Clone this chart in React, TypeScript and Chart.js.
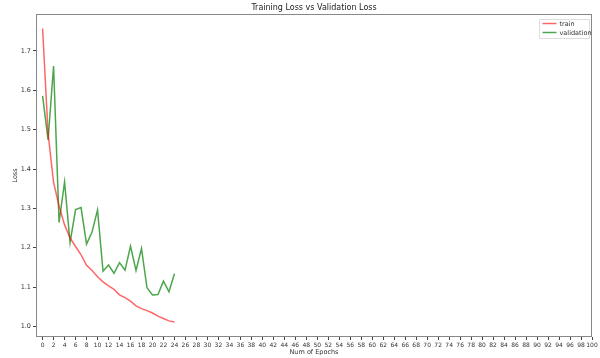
import React, { useEffect, useRef } from "react";
import { Chart, registerables } from "chart.js";

Chart.register(...registerables);

const epochs = [0, 1, 2, 3, 4, 5, 6, 7, 8, 9, 10, 11, 12, 13, 14, 15, 16, 17, 18, 19, 20, 21, 22, 23, 24];
const trainLoss = [1.757, 1.49, 1.366, 1.306, 1.258, 1.225, 1.203, 1.182, 1.155, 1.142, 1.126, 1.113, 1.103, 1.094, 1.080, 1.073, 1.064, 1.052, 1.045, 1.040, 1.034, 1.026, 1.020, 1.014, 1.011];
const valLoss = [1.586, 1.474, 1.662, 1.264, 1.367, 1.213, 1.297, 1.302, 1.209, 1.240, 1.296, 1.140, 1.156, 1.135, 1.162, 1.143, 1.204, 1.142, 1.198, 1.098, 1.080, 1.081, 1.115, 1.088, 1.134];
const xTicks = Array.from({ length: 51 }, (_, i) => i * 2);
const yTicks = [1.0, 1.1, 1.2, 1.3, 1.4, 1.5, 1.6, 1.7];
const seriesNames = ["train", "validation"];
const titleText = "Training Loss vs Validation Loss";
const xTitle = "Num of Epochs";
const yTitle = "Loss";

const FONT = "'DejaVu Sans', sans-serif";
const RED = "rgba(255,0,0,0.6)";
const GREEN = "rgba(0,128,0,0.7)";

const decorPlugin = {
  id: "decor",
  afterDraw(chart: any) {
    const { ctx, chartArea } = chart;
    const { left, right, top, bottom } = chartArea;
    ctx.save();
    // frame
    ctx.strokeStyle = "#888";
    ctx.lineWidth = 1;
    ctx.strokeRect(left + 0.5, top + 0.5, right - left - 1, bottom - top - 1);
    // title
    ctx.fillStyle = "#222";
    ctx.font = `8px ${FONT}`;
    ctx.textAlign = "center";
    ctx.textBaseline = "middle";
    ctx.fillText(titleText, (left + right) / 2, 7.5);
    // x title
    ctx.font = `6.5px ${FONT}`;
    ctx.fillStyle = "#333";
    ctx.fillText(xTitle, (left + right) / 2, 352.5);
    // y title
    ctx.save();
    ctx.translate(15.5, (top + bottom) / 2);
    ctx.rotate(-Math.PI / 2);
    ctx.fillText(yTitle, 0, 0);
    ctx.restore();
    // legend
    const bx = right - 52.5;
    const by = top + 5.5;
    const bw = 50;
    const bh = 19;
    ctx.fillStyle = "rgba(255,255,255,0.9)";
    ctx.strokeStyle = "#ddd";
    ctx.lineWidth = 1;
    ctx.beginPath();
    ctx.rect(bx, by, bw, bh);
    ctx.fill();
    ctx.stroke();
    const colors = chart.data.datasets.map((d: any) => d.borderColor);
    seriesNames.forEach((name, i) => {
      const ly = by + 4 + i * 9;
      ctx.strokeStyle = colors[i];
      ctx.lineWidth = 1.5;
      ctx.beginPath();
      ctx.moveTo(bx + 3, ly);
      ctx.lineTo(bx + 17, ly);
      ctx.stroke();
      ctx.fillStyle = "#333";
      ctx.font = `6.5px ${FONT}`;
      ctx.textAlign = "left";
      ctx.textBaseline = "middle";
      ctx.fillText(name, bx + 20, ly + 0.5);
    });
    ctx.restore();
  },
};

export default function App() {
  const ref = useRef<HTMLCanvasElement>(null);
  useEffect(() => {
    document.body.style.margin = "0";
    const canvas = ref.current!;
    const chart = new Chart(canvas, {
      type: "line",
      data: {
        datasets: [
          {
            label: seriesNames[0],
            data: epochs.map((e, i) => ({ x: e, y: trainLoss[i] })),
            borderColor: RED,
            borderWidth: 1.5,
            pointRadius: 0,
            fill: false,
            tension: 0,
          },
          {
            label: seriesNames[1],
            data: epochs.map((e, i) => ({ x: e, y: valLoss[i] })),
            borderColor: GREEN,
            borderWidth: 1.5,
            pointRadius: 0,
            fill: false,
            tension: 0,
          },
        ],
      },
      options: {
        responsive: false,
        animation: false,
        devicePixelRatio: 1,
        layout: { padding: { top: 14, right: 8, left: 0, bottom: 0 } },
        plugins: {
          legend: { display: false },
          title: { display: false },
          tooltip: { enabled: false },
        },
        scales: {
          x: {
            type: "linear",
            min: -1.2,
            max: 100,
            afterBuildTicks: (scale: any) => {
              scale.ticks = xTicks.map((v) => ({ value: v }));
            },
            afterFit: (scale: any) => {
              scale.height = 21;
            },
            grid: {
              display: true,
              drawOnChartArea: false,
              drawTicks: true,
              tickLength: 3,
              color: "#444",
            },
            border: { display: false },
            ticks: {
              autoSkip: false,
              maxRotation: 0,
              padding: 2,
              color: "#333",
              font: { family: FONT, size: 6 },
              callback: (v: any) => String(v),
            },
          },
          y: {
            type: "linear",
            min: 0.973,
            max: 1.794,
            afterBuildTicks: (scale: any) => {
              scale.ticks = yTicks.map((v) => ({ value: v }));
            },
            afterFit: (scale: any) => {
              scale.width = 36;
            },
            grid: {
              display: true,
              drawOnChartArea: false,
              drawTicks: true,
              tickLength: 3,
              color: "#444",
            },
            border: { display: false },
            ticks: {
              autoSkip: false,
              padding: 2,
              color: "#333",
              font: { family: FONT, size: 6.5 },
              callback: (v: any) => Number(v).toFixed(1),
            },
          },
        },
      },
      plugins: [decorPlugin],
    });
    return () => chart.destroy();
  }, []);
  return (
    <div style={{ width: 600, height: 358, background: "#fff" }}>
      <canvas ref={ref} width={600} height={358} style={{ display: "block" }} />
    </div>
  );
}
